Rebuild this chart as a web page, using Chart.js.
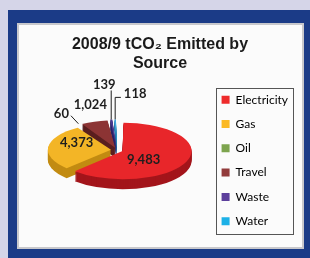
<!DOCTYPE html>
<html>
<head>
<meta charset="utf-8">
<script src="https://cdn.jsdelivr.net/npm/chart.js@4.4.1/dist/chart.umd.min.js"></script>
<style>
  html, body { margin: 0; padding: 0; }
  body { width: 310px; height: 258px; background: #d5d5e8; position: relative; overflow: hidden; }
  .frame { position: absolute; left: 8px; top: 10px; right: 0; bottom: 0; background: #1b3b87; }
  .panel { position: absolute; left: 17px; top: 23px; width: 287px; height: 226px; box-sizing: border-box; background: #fbfbfb; border: 2px solid #c8c8cc; }
  #chart { position: absolute; left: 18px; top: 23px; }
</style>
</head>
<body>
<div class="frame"></div>
<div class="panel"></div>
<canvas id="chart" width="284" height="224"></canvas>
<script>
const sources = ['Electricity', 'Gas', 'Oil', 'Travel', 'Waste', 'Water'];
const emissions = [9483, 4373, 60, 1024, 139, 118];

const topColors = ['#e8262a', '#f3b526', '#2f5422', '#8c3434', '#4a3a92', '#3ba7e0'];
const sideColors = ['#a3151b', '#c28b12', '#1c3514', '#5a1f1f', '#2c2266', '#1b6f9e'];
const legendColors = ['#ee2b2b', '#fbb924', '#7da44e', '#923b3b', '#5c3f9c', '#1cb1e7'];

// where each value label sits relative to its slice (px), and its leader line
const labelShift = [[-11, 3], [0, -5], [-17, -10], [-4, -17], [-7, -35], [20, -26]];
const leaders = ['none', 'none', 'line', 'none', 'up', 'elbow'];

// fake 3D: pie is squashed vertically and given a darker rim
const PIE = { cx: 99, cy: 127, tilt: 0.41, depth: 10 };

function project(arc, angle, r) {
    const mid = (arc.startAngle + arc.endAngle) / 2;
    const off = (arc.options.offset || 0) / 4;
    const x = Math.cos(mid) * off + Math.cos(angle) * r;
    const y = Math.sin(mid) * off + Math.sin(angle) * r;
    return { x: PIE.cx + x, y: PIE.cy + y * PIE.tilt };
}

function drawLabels(chart, arcs) {
    const ctx = chart.ctx;
    ctx.save();
    ctx.font = 'bold 13px Lato';
    ctx.fillStyle = '#1e1e1e';
    ctx.strokeStyle = '#1e1e1e';
    ctx.lineWidth = 1;
    ctx.textAlign = 'center';
    ctx.textBaseline = 'middle';
    arcs.forEach((arc, i) => {
        const mid = (arc.startAngle + arc.endAngle) / 2;
        const circ = arc.endAngle - arc.startAngle;
        const off = (arc.options.offset || 0) / 4;
        const inside = circ > 1;
        const r = inside ? arc.outerRadius * 0.55
            : arc.outerRadius + off * (1 - Math.sin(Math.min(Math.PI, circ)));
        const a = project(arc, mid, r);
        const lx = a.x + labelShift[i][0];
        const ly = a.y + labelShift[i][1];
        const text = emissions[i].toLocaleString('en-US');
        const w = ctx.measureText(text).width;

        ctx.beginPath();
        if (leaders[i] === 'line') {
            ctx.moveTo(a.x, a.y);
            ctx.lineTo(lx + w / 2 + 2, ly + 2);
        } else if (leaders[i] === 'up') {
            ctx.moveTo(a.x, a.y);
            ctx.lineTo(a.x, ly + 6);
        } else if (leaders[i] === 'elbow') {
            ctx.moveTo(a.x, a.y);
            ctx.lineTo(a.x, ly + 4);
            ctx.lineTo(lx - w / 2 - 3, ly + 4);
        }
        ctx.stroke();
        ctx.fillText(text, lx, ly);
    });
    ctx.restore();
}

const pie3d = {
    id: 'pie3d',
    beforeDatasetsDraw(chart) {
        const ctx = chart.ctx;
        const arcs = chart.getDatasetMeta(0).data;
        const layer = (d, colors) => {
            arcs.forEach((arc, i) => {
                ctx.save();
                ctx.translate(PIE.cx, PIE.cy + d);
                ctx.scale(1, PIE.tilt);
                ctx.translate(-arc.x, -arc.y);
                const saved = arc.options;
                if (colors) {
                    arc.options = Object.assign({}, saved, { backgroundColor: colors[i], borderColor: colors[i] });
                }
                arc.draw(ctx);
                arc.options = saved;
                ctx.restore();
            });
        };
        for (let d = PIE.depth; d > 0; d--) layer(d, sideColors);
        layer(0, null);
        drawLabels(chart, arcs);
        return false;
    },
    afterDraw(chart) {
        // box round the legend
        const boxes = chart.legend.legendHitBoxes;
        if (!boxes || !boxes.length) return;
        let l = Infinity, t = Infinity, r = -Infinity, b = -Infinity;
        boxes.forEach(h => {
            l = Math.min(l, h.left);
            t = Math.min(t, h.top);
            r = Math.max(r, h.left + h.width);
            b = Math.max(b, h.top + h.height);
        });
        const ctx = chart.ctx;
        ctx.save();
        ctx.strokeStyle = '#555555';
        ctx.lineWidth = 1;
        ctx.strokeRect(Math.round(l - 6) + 0.5, Math.round(t - 6) + 0.5,
            Math.round(r - l + 11), Math.round(b - t + 12));
        ctx.restore();
    }
};

new Chart(document.getElementById('chart'), {
    type: 'pie',
    data: {
        labels: sources,
        datasets: [{
            data: emissions,
            backgroundColor: topColors,
            borderWidth: 0,
            offset: 24,
            radius: 63
        }]
    },
    options: {
        responsive: false,
        animation: false,
        events: [],
        layout: { padding: { left: 4, right: 4 } },
        plugins: {
            title: {
                display: true,
                text: ['2008/9 tCO\u2082 Emitted by', 'Source'],
                color: '#1a1a1a',
                font: { family: 'Liberation Sans', size: 16, weight: 'bold', lineHeight: 1.2 },
                padding: { top: 12, bottom: 8 }
            },
            legend: {
                position: 'right',
                align: 'start',
                fullSize: false,
                labels: {
                    boxWidth: 8,
                    boxHeight: 8,
                    padding: 12.3,
                    color: '#1e1e1e',
                    font: { family: 'Lato', size: 12 },
                    generateLabels: () => sources.map((s, i) => ({
                        text: s,
                        fillStyle: legendColors[i],
                        strokeStyle: legendColors[i],
                        lineWidth: 0,
                        hidden: false,
                        index: i
                    }))
                }
            },
            tooltip: { enabled: false }
        }
    },
    plugins: [pie3d]
});
</script>
</body>
</html>
